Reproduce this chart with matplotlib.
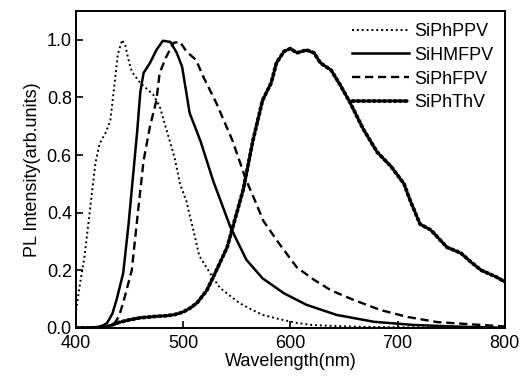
import numpy as np
import matplotlib.pyplot as plt

plt.rcParams['font.family'] = ['Liberation Sans', 'DejaVu Sans']

# SiPhPPV (fine dotted)
ppv_x = [400, 404, 408, 413, 418, 422, 428, 432, 436, 439, 443, 446, 449, 452, 460,
         466, 472, 478, 485, 492, 497, 503, 510, 515, 525, 534, 544, 553, 563, 574,
         590, 606, 620, 638, 660, 700, 750, 800]
ppv_y = [0.06, 0.16, 0.25, 0.41, 0.57, 0.64, 0.68, 0.72, 0.85, 0.95, 1.00, 0.98, 0.93,
         0.89, 0.85, 0.83, 0.81, 0.77, 0.68, 0.59, 0.50, 0.44, 0.33, 0.25, 0.19, 0.14,
         0.11, 0.085, 0.065, 0.045, 0.03, 0.017, 0.01, 0.007, 0.004, 0.002, 0.001, 0.0]

# SiHMFPV (solid)
hm_x = [400, 410, 420, 425, 429, 434, 438, 444, 449, 452, 457, 460, 463, 469, 475,
        481, 488, 494, 499, 506, 516, 528, 544, 559, 574, 594, 615, 643, 678, 715,
        750, 800]
hm_y = [0.0, 0.0, 0.003, 0.008, 0.017, 0.05, 0.10, 0.19, 0.36, 0.48, 0.68, 0.82, 0.885,
        0.92, 0.965, 0.997, 0.993, 0.955, 0.906, 0.746, 0.65, 0.51, 0.35, 0.236, 0.172,
        0.12, 0.08, 0.045, 0.021, 0.01, 0.005, 0.0]

# SiPhFPV (dashed)
fpv_x = [400, 420, 430, 435, 440, 444, 452, 458, 463, 469, 475, 478, 484, 491, 497,
         503, 512, 519, 531, 546, 558, 566, 575, 590, 606, 622, 638, 659, 684, 709,
         737, 778, 800]
fpv_y = [0.0, 0.0, 0.0, 0.01, 0.04, 0.087, 0.20, 0.41, 0.58, 0.70, 0.79, 0.885, 0.94,
         0.99, 0.993, 0.96, 0.93, 0.87, 0.78, 0.65, 0.52, 0.45, 0.37, 0.29, 0.21, 0.167,
         0.13, 0.097, 0.062, 0.038, 0.02, 0.01, 0.005]

# SiPhThV (heavy dotted)
thv_x = [400, 420, 430, 441, 450, 460, 475, 484, 492, 500, 507, 513, 522, 531, 541,
         547, 556, 565, 574, 582, 587, 594, 600, 606, 615, 622, 628, 638, 647, 656,
         668, 681, 694, 706, 712, 721, 731, 746, 759, 768, 778, 792, 800]
thv_y = [0.0, 0.0, 0.005, 0.02, 0.028, 0.035, 0.04, 0.042, 0.046, 0.055, 0.07, 0.087,
         0.13, 0.20, 0.28, 0.36, 0.48, 0.65, 0.79, 0.85, 0.92, 0.96, 0.97, 0.955, 0.965,
         0.955, 0.92, 0.895, 0.84, 0.78, 0.69, 0.61, 0.56, 0.50, 0.44, 0.36, 0.34, 0.28,
         0.26, 0.23, 0.20, 0.177, 0.16]

fig = plt.figure(figsize=(5.28, 3.83), dpi=100)
ax = fig.add_axes([0.144, 0.144, 0.812, 0.827])

ax.plot(ppv_x, ppv_y, color='black', lw=1.4, linestyle=(0, (1, 1.5)), label='SiPhPPV')
ax.plot(hm_x, hm_y, color='black', lw=1.8, linestyle='-', label='SiHMFPV')
ax.plot(fpv_x, fpv_y, color='black', lw=1.7, linestyle=(0, (3.5, 2)), label='SiPhFPV')
ax.plot(thv_x, thv_y, color='black', lw=2.7, linestyle=(0, (0.6, 0.8)),
        dash_capstyle='round', label='SiPhThV')

ax.set_xlim(400, 800)
ax.set_ylim(0, 1.1)
ax.set_xticks([400, 500, 600, 700, 800])
ax.set_yticks([0.0, 0.2, 0.4, 0.6, 0.8, 1.0])
ax.set_yticklabels(['0.0', '0.2', '0.4', '0.6', '0.8', '1.0'])
ax.tick_params(direction='in', length=5, width=1.2, labelsize=13)
ax.tick_params(axis='x', pad=5)
ax.tick_params(axis='y', pad=3)
for s in ax.spines.values():
    s.set_linewidth(1.4)

ax.set_xlabel('Wavelength(nm)', fontsize=13, labelpad=1)
ax.set_ylabel('PL Intensity(arb.units)', fontsize=13, labelpad=4)

ax.legend(loc='upper right', frameon=False, fontsize=13, handlelength=3.2,
          handletextpad=0.25, labelspacing=0.38, borderaxespad=0.25)

fig.savefig('out.png', dpi=100)
